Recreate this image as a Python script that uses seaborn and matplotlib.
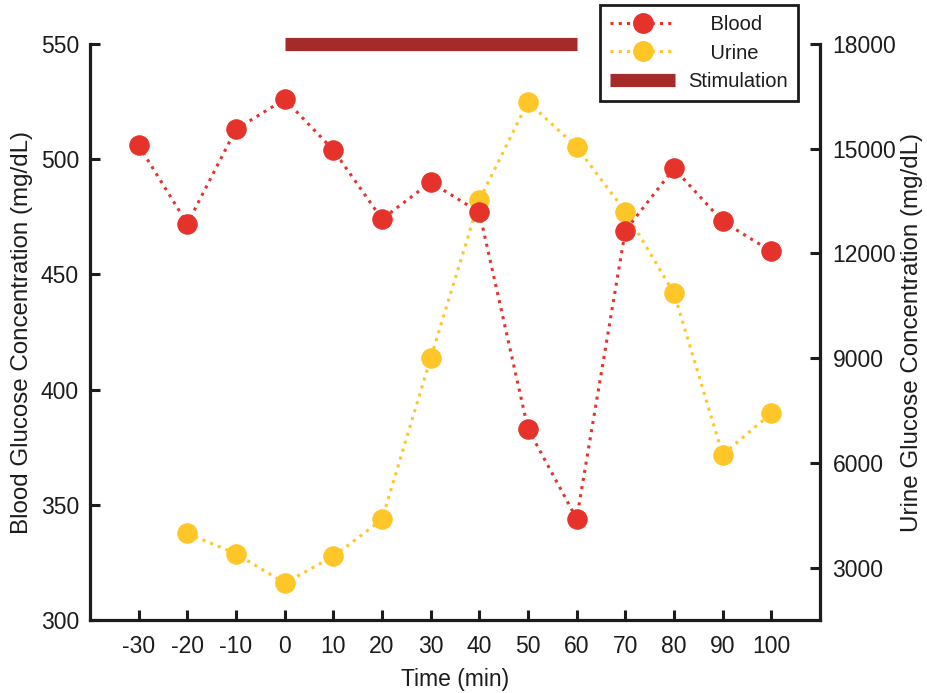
import matplotlib
matplotlib.use("Agg")
import matplotlib.pyplot as plt
from matplotlib.lines import Line2D
import seaborn as sns
import pandas as pd

# Sampling times (min) and measured glucose concentrations (mg/dL)
time_blood = [-30, -20, -10, 0, 10, 20, 30, 40, 50, 60, 70, 80, 90, 100]
blood = [506, 472, 513, 526, 504, 474, 490, 477, 383, 344, 469, 496, 473, 460]

time_urine = [-20, -10, 0, 10, 20, 30, 40, 50, 60, 70, 80, 90, 100]
urine = [3980, 3400, 2560, 3320, 4380, 9000, 13530, 16340, 15050, 13200, 10860, 6240, 7420]

# Stimulation window (min)
stim_start, stim_end = 0, 60

x_ticks = [-30, -20, -10, 0, 10, 20, 30, 40, 50, 60, 70, 80, 90, 100]
left_ticks = [300, 350, 400, 450, 500, 550]
right_ticks = [3000, 6000, 9000, 12000, 15000, 18000]

RED = "#e5322b"
YELLOW = "#fec627"
STIM = "#a52a2a"
INK = "#1c1c1c"

sns.set_theme(style="white")
plt.rcParams["font.family"] = ["Liberation Sans", "DejaVu Sans"]
plt.rcParams["axes.unicode_minus"] = False

df_blood = pd.DataFrame({"Time": time_blood, "Blood": blood})
df_urine = pd.DataFrame({"Time": time_urine, "Urine": urine})

fig = plt.figure(figsize=(9.28, 6.93), dpi=100)
ax = fig.add_axes([90 / 928, 1 - 620 / 693, 730 / 928, 576 / 693])
ax2 = ax.twinx()

dots = (0, (1, 1.7))
line_kw = dict(marker="o", markersize=14, linewidth=2.2, linestyle=dots)

sns.lineplot(data=df_urine, x="Time", y="Urine", ax=ax2, color=YELLOW,
             markeredgecolor=YELLOW, **line_kw)
sns.lineplot(data=df_blood, x="Time", y="Blood", ax=ax, color=RED,
             markeredgecolor=RED, **line_kw)
ax.set_zorder(ax2.get_zorder() + 1)
ax.patch.set_visible(False)

# Stimulation bar along the top edge
ax.plot([stim_start, stim_end], [550, 550], color=STIM, linewidth=9.5,
        solid_capstyle="butt", clip_on=False, zorder=5)

ax.set_xlim(-40, 110)
ax.set_ylim(300, 550)
ax2.set_ylim(1500, 18000)
ax.set_xticks(x_ticks)
ax.set_yticks(left_ticks)
ax2.set_yticks(right_ticks)

ax.set_xlabel("Time (min)", fontsize=16.5, labelpad=7, color=INK)
ax.set_ylabel("Blood Glucose Concentration (mg/dL)", fontsize=17.4,
              color=INK, va="center")
ax2.set_ylabel("Urine Glucose Concentration (mg/dL)", fontsize=17.4,
               color=INK, va="center")
ax.yaxis.set_label_coords(-0.0937, 0.5)
ax2.yaxis.set_label_coords(1.1255, 0.5)

for a in (ax, ax2):
    for side in ("left", "right", "bottom", "top"):
        a.spines[side].set_visible(False)
ax.spines["left"].set_visible(True)
ax.spines["bottom"].set_visible(True)
ax2.spines["right"].set_visible(True)
for sp in (ax.spines["left"], ax.spines["bottom"], ax2.spines["right"]):
    sp.set_color(INK)
    sp.set_linewidth(2.3)

ax.tick_params(axis="both", direction="in", length=7, width=2.2, color=INK,
               labelsize=16.5, labelcolor=INK, left=True, bottom=True)
ax.tick_params(axis="x", pad=11)
ax.tick_params(axis="y", pad=8)
ax2.tick_params(axis="y", direction="in", length=7, width=2.2, color=INK,
                labelsize=16.5, labelcolor=INK, pad=9, right=True)
ax.grid(False)
ax2.grid(False)

handles = [
    Line2D([], [], color=RED, marker="o", markersize=14, linewidth=2.2, linestyle=dots),
    Line2D([], [], color=YELLOW, marker="o", markersize=14, linewidth=2.2, linestyle=dots),
    Line2D([], [], color=STIM, linewidth=9.5, solid_capstyle="butt"),
]
labels = ["    Blood", "    Urine", "Stimulation"]
leg = fig.legend(handles, labels, loc="upper left",
                 bbox_to_anchor=(600 / 928, 1 - 5 / 693), borderaxespad=0,
                 fontsize=14.5, handlelength=3.2, handletextpad=0.65,
                 labelspacing=0.45, borderpad=0.52, fancybox=False,
                 framealpha=1, labelcolor=INK)
leg.get_frame().set_edgecolor(INK)
leg.get_frame().set_linewidth(2.0)

fig.savefig("out.png", dpi=100)
